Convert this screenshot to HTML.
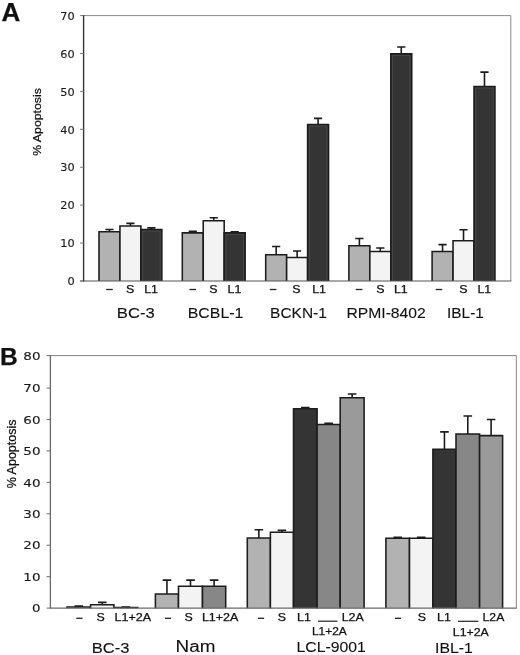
<!DOCTYPE html>
<html lang="en"><head><meta charset="utf-8"><title>Figure</title>
<style>html,body{margin:0;padding:0;background:#fff}svg{display:block}text{font-family:"Liberation Sans",Arial,sans-serif;fill:#111;stroke:#111;stroke-width:0.25px}.big{stroke-width:0.1px}.tk{font-family:"DejaVu Sans","Liberation Sans",sans-serif;fill:#1a1a1a;stroke:#1a1a1a;stroke-width:0.12px}</style></head><body>
<svg width="520" height="655" viewBox="0 0 520 655">
<rect width="520" height="655" fill="#fff"/>
<path d="M83.6 15.6H510.8V281" stroke="#8a8a8a" stroke-width="1" fill="none"/>
<path d="M109.47 231.71V229.44M105.38 229.44H113.57" stroke="#1c1c1c" stroke-width="1.6" fill="none"/><path d="M99 281V231.71H119.95V281" fill="#b2b2b2" stroke="#1c1c1c" stroke-width="1.55"/>
<path d="M130.43 226.02V223.37M126.33 223.37H134.53" stroke="#1c1c1c" stroke-width="1.6" fill="none"/><path d="M119.95 281V226.02H140.9V281" fill="#f3f3f3" stroke="#1c1c1c" stroke-width="1.55"/>
<path d="M151.38 229.44V227.92M147.28 227.92H155.47" stroke="#1c1c1c" stroke-width="1.6" fill="none"/><path d="M140.9 281V229.44H161.85V281" fill="#343434" stroke="#1c1c1c" stroke-width="1.55"/><path d="M142.6 281V231.04H160.15V281" fill="none" stroke="#5a5a5a" stroke-width="0.5"/>
<path d="M192.78 232.85V231.33M188.68 231.33H196.88" stroke="#1c1c1c" stroke-width="1.6" fill="none"/><path d="M182.3 281V232.85H203.25V281" fill="#b2b2b2" stroke="#1c1c1c" stroke-width="1.55"/>
<path d="M213.73 220.72V217.68M209.63 217.68H217.83" stroke="#1c1c1c" stroke-width="1.6" fill="none"/><path d="M203.25 281V220.72H224.2V281" fill="#f3f3f3" stroke="#1c1c1c" stroke-width="1.55"/>
<path d="M234.68 232.85V231.71M230.58 231.71H238.78" stroke="#1c1c1c" stroke-width="1.6" fill="none"/><path d="M224.2 281V232.85H245.15V281" fill="#343434" stroke="#1c1c1c" stroke-width="1.55"/><path d="M225.9 281V234.45H243.45V281" fill="none" stroke="#5a5a5a" stroke-width="0.5"/>
<path d="M276.17 254.84V246.5M272.07 246.5H280.27" stroke="#1c1c1c" stroke-width="1.6" fill="none"/><path d="M265.7 281V254.84H286.65V281" fill="#b2b2b2" stroke="#1c1c1c" stroke-width="1.55"/>
<path d="M297.12 257.49V251.05M293.02 251.05H301.23" stroke="#1c1c1c" stroke-width="1.6" fill="none"/><path d="M286.65 281V257.49H307.6V281" fill="#f3f3f3" stroke="#1c1c1c" stroke-width="1.55"/>
<path d="M318.07 124.41V118.35M313.97 118.35H322.17" stroke="#1c1c1c" stroke-width="1.6" fill="none"/><path d="M307.6 281V124.41H328.55V281" fill="#343434" stroke="#1c1c1c" stroke-width="1.55"/><path d="M309.3 281V126.01H326.85V281" fill="none" stroke="#5a5a5a" stroke-width="0.5"/>
<path d="M359.38 245.74V238.54M355.27 238.54H363.48" stroke="#1c1c1c" stroke-width="1.6" fill="none"/><path d="M348.9 281V245.74H369.85V281" fill="#b2b2b2" stroke="#1c1c1c" stroke-width="1.55"/>
<path d="M380.32 251.43V248.01M376.22 248.01H384.42" stroke="#1c1c1c" stroke-width="1.6" fill="none"/><path d="M369.85 281V251.43H390.8V281" fill="#f3f3f3" stroke="#1c1c1c" stroke-width="1.55"/>
<path d="M401.27 53.89V47.07M397.17 47.07H405.38" stroke="#1c1c1c" stroke-width="1.6" fill="none"/><path d="M390.8 281V53.89H411.75V281" fill="#343434" stroke="#1c1c1c" stroke-width="1.55"/><path d="M392.5 281V55.49H410.05V281" fill="none" stroke="#5a5a5a" stroke-width="0.5"/>
<path d="M442.58 251.43V244.6M438.48 244.6H446.68" stroke="#1c1c1c" stroke-width="1.6" fill="none"/><path d="M432.1 281V251.43H453.05V281" fill="#b2b2b2" stroke="#1c1c1c" stroke-width="1.55"/>
<path d="M463.52 240.81V229.82M459.42 229.82H467.62" stroke="#1c1c1c" stroke-width="1.6" fill="none"/><path d="M453.05 281V240.81H474V281" fill="#f3f3f3" stroke="#1c1c1c" stroke-width="1.55"/>
<path d="M484.48 86.5V72.09M480.38 72.09H488.58" stroke="#1c1c1c" stroke-width="1.6" fill="none"/><path d="M474 281V86.5H494.95V281" fill="#343434" stroke="#1c1c1c" stroke-width="1.55"/><path d="M475.7 281V88.1H493.25V281" fill="none" stroke="#5a5a5a" stroke-width="0.5"/>
<path d="M80.1 281H511.3" stroke="#555" stroke-width="1.1" fill="none"/>
<path d="M83.6 15.1V281.5" stroke="#333" stroke-width="1.4" fill="none"/>
<path d="M80.1 281H83.6" stroke="#777" stroke-width="1"/>
<text x="74.6" y="285.2" font-size="10.2" text-anchor="end" class="tk" textLength="7.2" lengthAdjust="spacingAndGlyphs">0</text>
<path d="M80.1 243.09H83.6" stroke="#777" stroke-width="1"/>
<text x="74.6" y="247.29" font-size="10.2" text-anchor="end" class="tk" textLength="14.4" lengthAdjust="spacingAndGlyphs">10</text>
<path d="M80.1 205.17H83.6" stroke="#777" stroke-width="1"/>
<text x="74.6" y="209.37" font-size="10.2" text-anchor="end" class="tk" textLength="14.4" lengthAdjust="spacingAndGlyphs">20</text>
<path d="M80.1 167.26H83.6" stroke="#777" stroke-width="1"/>
<text x="74.6" y="171.46" font-size="10.2" text-anchor="end" class="tk" textLength="14.4" lengthAdjust="spacingAndGlyphs">30</text>
<path d="M80.1 129.34H83.6" stroke="#777" stroke-width="1"/>
<text x="74.6" y="133.54" font-size="10.2" text-anchor="end" class="tk" textLength="14.4" lengthAdjust="spacingAndGlyphs">40</text>
<path d="M80.1 91.43H83.6" stroke="#777" stroke-width="1"/>
<text x="74.6" y="95.63" font-size="10.2" text-anchor="end" class="tk" textLength="14.4" lengthAdjust="spacingAndGlyphs">50</text>
<path d="M80.1 53.51H83.6" stroke="#777" stroke-width="1"/>
<text x="74.6" y="57.71" font-size="10.2" text-anchor="end" class="tk" textLength="14.4" lengthAdjust="spacingAndGlyphs">60</text>
<path d="M80.1 15.6H83.6" stroke="#777" stroke-width="1"/>
<text x="74.6" y="19.8" font-size="10.2" text-anchor="end" class="tk" textLength="14.4" lengthAdjust="spacingAndGlyphs">70</text>
<text transform="translate(41 155.8) rotate(-90)" font-size="11.7" textLength="67.6" lengthAdjust="spacingAndGlyphs">% Apoptosis</text>
<text x="1.4" y="20.6" font-size="26" text-anchor="start" font-weight="bold">A</text>
<path d="M106.2 289.5H112.8" stroke="#222" stroke-width="1.3"/>
<text x="130.2" y="292.7" font-size="10.6" text-anchor="middle" textLength="8.27" lengthAdjust="spacingAndGlyphs">S</text>
<text x="151.1" y="292.7" font-size="10.6" text-anchor="middle" textLength="13.79" lengthAdjust="spacingAndGlyphs">L1</text>
<path d="M189.5 289.5H196.1" stroke="#222" stroke-width="1.3"/>
<text x="213.5" y="292.7" font-size="10.6" text-anchor="middle" textLength="8.27" lengthAdjust="spacingAndGlyphs">S</text>
<text x="234.5" y="292.7" font-size="10.6" text-anchor="middle" textLength="13.79" lengthAdjust="spacingAndGlyphs">L1</text>
<path d="M269.8 289.5H276.4" stroke="#222" stroke-width="1.3"/>
<text x="296.5" y="292.7" font-size="10.6" text-anchor="middle" textLength="8.27" lengthAdjust="spacingAndGlyphs">S</text>
<text x="319.1" y="292.7" font-size="10.6" text-anchor="middle" textLength="13.79" lengthAdjust="spacingAndGlyphs">L1</text>
<path d="M355.8 289.5H362.4" stroke="#222" stroke-width="1.3"/>
<text x="380.5" y="292.7" font-size="10.6" text-anchor="middle" textLength="8.27" lengthAdjust="spacingAndGlyphs">S</text>
<text x="400.8" y="292.7" font-size="10.6" text-anchor="middle" textLength="13.79" lengthAdjust="spacingAndGlyphs">L1</text>
<path d="M435.7 289.5H442.3" stroke="#222" stroke-width="1.3"/>
<text x="463.3" y="292.7" font-size="10.6" text-anchor="middle" textLength="8.27" lengthAdjust="spacingAndGlyphs">S</text>
<text x="484.3" y="292.7" font-size="10.6" text-anchor="middle" textLength="13.79" lengthAdjust="spacingAndGlyphs">L1</text>
<text x="116.8" y="317.8" font-size="14.6" text-anchor="start" class="big" textLength="38" lengthAdjust="spacingAndGlyphs">BC-3</text>
<text x="187.8" y="317.8" font-size="14.6" text-anchor="start" class="big" textLength="55.5" lengthAdjust="spacingAndGlyphs">BCBL-1</text>
<text x="270.1" y="317.8" font-size="14.6" text-anchor="start" class="big" textLength="56.7" lengthAdjust="spacingAndGlyphs">BCKN-1</text>
<text x="346.4" y="317.8" font-size="14.6" text-anchor="start" class="big" textLength="79.4" lengthAdjust="spacingAndGlyphs">RPMI-8402</text>
<text x="447.1" y="317.8" font-size="14.6" text-anchor="start" class="big" textLength="36.7" lengthAdjust="spacingAndGlyphs">IBL-1</text>
<path d="M50.4 355.6H516.3V608.2" stroke="#858585" stroke-width="1" fill="none"/>
<path d="M78.8 606.94V606.15M74.5 606.15H83.1" stroke="#1c1c1c" stroke-width="1.6" fill="none"/><path d="M67 608.2V606.94H90.6V608.2" fill="#b2b2b2" stroke="#1c1c1c" stroke-width="1.55"/>
<path d="M102.25 604.73V602.36M97.95 602.36H106.55" stroke="#1c1c1c" stroke-width="1.6" fill="none"/><path d="M90.6 608.2V604.73H113.9V608.2" fill="#f3f3f3" stroke="#1c1c1c" stroke-width="1.55"/>
<path d="M125.85 607.41V607.09M121.55 607.09H130.15" stroke="#1c1c1c" stroke-width="1.6" fill="none"/><path d="M113.9 608.2V607.41H137.8V608.2" fill="#878787" stroke="#1c1c1c" stroke-width="1.55"/>
<path d="M166.95 593.99V580.1M162.65 580.1H171.25" stroke="#1c1c1c" stroke-width="1.6" fill="none"/><path d="M155.4 608.2V593.99H178.5V608.2" fill="#b2b2b2" stroke="#1c1c1c" stroke-width="1.55"/>
<path d="M190.5 586.26V580.1M186.2 580.1H194.8" stroke="#1c1c1c" stroke-width="1.6" fill="none"/><path d="M178.5 608.2V586.26H202.5V608.2" fill="#f3f3f3" stroke="#1c1c1c" stroke-width="1.55"/>
<path d="M214.1 586.26V580.1M209.8 580.1H218.4" stroke="#1c1c1c" stroke-width="1.6" fill="none"/><path d="M202.5 608.2V586.26H225.7V608.2" fill="#878787" stroke="#1c1c1c" stroke-width="1.55"/>
<path d="M258.85 537.95V529.74M254.55 529.74H263.15" stroke="#1c1c1c" stroke-width="1.6" fill="none"/><path d="M247.3 608.2V537.95H270.4V608.2" fill="#b2b2b2" stroke="#1c1c1c" stroke-width="1.55"/>
<path d="M281.95 532.26V530.37M277.65 530.37H286.25" stroke="#1c1c1c" stroke-width="1.6" fill="none"/><path d="M270.4 608.2V532.26H293.5V608.2" fill="#f3f3f3" stroke="#1c1c1c" stroke-width="1.55"/>
<path d="M305.3 408.8V407.54M301 407.54H309.6" stroke="#1c1c1c" stroke-width="1.6" fill="none"/><path d="M293.5 608.2V408.8H317.1V608.2" fill="#343434" stroke="#1c1c1c" stroke-width="1.55"/>
<path d="M328.65 424.59V423.33M324.35 423.33H332.95" stroke="#1c1c1c" stroke-width="1.6" fill="none"/><path d="M317.1 608.2V424.59H340.2V608.2" fill="#878787" stroke="#1c1c1c" stroke-width="1.55"/>
<path d="M352.15 397.75V393.96M347.85 393.96H356.45" stroke="#1c1c1c" stroke-width="1.6" fill="none"/><path d="M340.2 608.2V397.75H364.1V608.2" fill="#9a9a9a" stroke="#1c1c1c" stroke-width="1.55"/>
<path d="M397.7 538.26V537.31M393.4 537.31H402" stroke="#1c1c1c" stroke-width="1.6" fill="none"/><path d="M385.9 608.2V538.26H409.5V608.2" fill="#b2b2b2" stroke="#1c1c1c" stroke-width="1.55"/>
<path d="M421.2 538.26V537.31M416.9 537.31H425.5" stroke="#1c1c1c" stroke-width="1.6" fill="none"/><path d="M409.5 608.2V538.26H432.9V608.2" fill="#f3f3f3" stroke="#1c1c1c" stroke-width="1.55"/>
<path d="M444.45 449.22V431.85M440.15 431.85H448.75" stroke="#1c1c1c" stroke-width="1.6" fill="none"/><path d="M432.9 608.2V449.22H456V608.2" fill="#343434" stroke="#1c1c1c" stroke-width="1.55"/>
<path d="M467.8 434.06V416.07M463.5 416.07H472.1" stroke="#1c1c1c" stroke-width="1.6" fill="none"/><path d="M456 608.2V434.06H479.6V608.2" fill="#878787" stroke="#1c1c1c" stroke-width="1.55"/>
<path d="M491.1 435.64V419.54M486.8 419.54H495.4" stroke="#1c1c1c" stroke-width="1.6" fill="none"/><path d="M479.6 608.2V435.64H502.6V608.2" fill="#9a9a9a" stroke="#1c1c1c" stroke-width="1.55"/>
<path d="M50.4 355.1V608.2H516.8" stroke="#6a6a6a" stroke-width="1.3" fill="none"/>
<path d="M46.6 608.1H50.4" stroke="#6a6a6a" stroke-width="1"/>
<text x="40.5" y="612.3" font-size="9.9" text-anchor="end" class="tk" textLength="8.5" lengthAdjust="spacingAndGlyphs">0</text>
<path d="M46.6 576.67H50.4" stroke="#6a6a6a" stroke-width="1"/>
<text x="40.5" y="580.87" font-size="9.9" text-anchor="end" class="tk" textLength="17.2" lengthAdjust="spacingAndGlyphs">10</text>
<path d="M46.6 545.24H50.4" stroke="#6a6a6a" stroke-width="1"/>
<text x="40.5" y="549.44" font-size="9.9" text-anchor="end" class="tk" textLength="17.2" lengthAdjust="spacingAndGlyphs">20</text>
<path d="M46.6 513.81H50.4" stroke="#6a6a6a" stroke-width="1"/>
<text x="40.5" y="518.01" font-size="9.9" text-anchor="end" class="tk" textLength="17.2" lengthAdjust="spacingAndGlyphs">30</text>
<path d="M46.6 482.38H50.4" stroke="#6a6a6a" stroke-width="1"/>
<text x="40.5" y="486.58" font-size="9.9" text-anchor="end" class="tk" textLength="17.2" lengthAdjust="spacingAndGlyphs">40</text>
<path d="M46.6 450.95H50.4" stroke="#6a6a6a" stroke-width="1"/>
<text x="40.5" y="455.15" font-size="9.9" text-anchor="end" class="tk" textLength="17.2" lengthAdjust="spacingAndGlyphs">50</text>
<path d="M46.6 419.52H50.4" stroke="#6a6a6a" stroke-width="1"/>
<text x="40.5" y="423.72" font-size="9.9" text-anchor="end" class="tk" textLength="17.2" lengthAdjust="spacingAndGlyphs">60</text>
<path d="M46.6 388.09H50.4" stroke="#6a6a6a" stroke-width="1"/>
<text x="40.5" y="392.29" font-size="9.9" text-anchor="end" class="tk" textLength="17.2" lengthAdjust="spacingAndGlyphs">70</text>
<path d="M46.6 355.6H50.4" stroke="#6a6a6a" stroke-width="1"/>
<text x="40.5" y="359.8" font-size="9.9" text-anchor="end" class="tk" textLength="17.2" lengthAdjust="spacingAndGlyphs">80</text>
<text transform="translate(15.8 488.3) rotate(-90)" font-size="12" textLength="68.8" lengthAdjust="spacingAndGlyphs">% Apoptosis</text>
<text x="0" y="364.7" font-size="24.6" text-anchor="start" font-weight="bold">B</text>
<path d="M76.3 618.3H82.5" stroke="#222" stroke-width="1.3"/>
<text x="100.6" y="621.3" font-size="10.6" text-anchor="middle" textLength="8.27" lengthAdjust="spacingAndGlyphs">S</text>
<text x="114.5" y="621.3" font-size="10.6" text-anchor="start" textLength="36.51" lengthAdjust="spacingAndGlyphs">L1+2A</text>
<path d="M164.9 618.3H171.1" stroke="#222" stroke-width="1.3"/>
<text x="188.6" y="621.3" font-size="10.6" text-anchor="middle" textLength="8.27" lengthAdjust="spacingAndGlyphs">S</text>
<text x="201.9" y="621.3" font-size="10.6" text-anchor="start" textLength="36.51" lengthAdjust="spacingAndGlyphs">L1+2A</text>
<path d="M257.9 618.3H264.1" stroke="#222" stroke-width="1.3"/>
<text x="282" y="621.3" font-size="10.6" text-anchor="middle" textLength="8.27" lengthAdjust="spacingAndGlyphs">S</text>
<text x="297" y="621.3" font-size="10.6" text-anchor="start" textLength="13.79" lengthAdjust="spacingAndGlyphs">L1</text>
<path d="M318 621.2H337.4" stroke="#222" stroke-width="1.2"/>
<text x="341.7" y="621.3" font-size="10.6" text-anchor="start" textLength="22.06" lengthAdjust="spacingAndGlyphs">L2A</text>
<text x="312" y="634.6" font-size="10.6" text-anchor="start" textLength="34.65" lengthAdjust="spacingAndGlyphs">L1+2A</text>
<path d="M394.9 618.3H401.1" stroke="#222" stroke-width="1.3"/>
<text x="421.9" y="621.3" font-size="10.6" text-anchor="middle" textLength="8.27" lengthAdjust="spacingAndGlyphs">S</text>
<text x="437" y="621.3" font-size="10.6" text-anchor="start" textLength="13.79" lengthAdjust="spacingAndGlyphs">L1</text>
<path d="M458 621.3H478.3" stroke="#222" stroke-width="1.2"/>
<text x="482.6" y="621.3" font-size="10.6" text-anchor="start" textLength="21.69" lengthAdjust="spacingAndGlyphs">L2A</text>
<text x="452.8" y="635.6" font-size="10.6" text-anchor="start" textLength="35.89" lengthAdjust="spacingAndGlyphs">L1+2A</text>
<text x="91.8" y="653" font-size="14.6" text-anchor="start" class="big" textLength="37.8" lengthAdjust="spacingAndGlyphs">BC-3</text>
<text x="175.6" y="652.2" font-size="17.3" text-anchor="start" class="big" textLength="39.8" lengthAdjust="spacingAndGlyphs">Nam</text>
<text x="296.6" y="652.4" font-size="14.6" text-anchor="start" class="big" textLength="69.3" lengthAdjust="spacingAndGlyphs">LCL-9001</text>
<text x="435.1" y="652.9" font-size="14.6" text-anchor="start" class="big" textLength="37.8" lengthAdjust="spacingAndGlyphs">IBL-1</text>
</svg></body></html>
